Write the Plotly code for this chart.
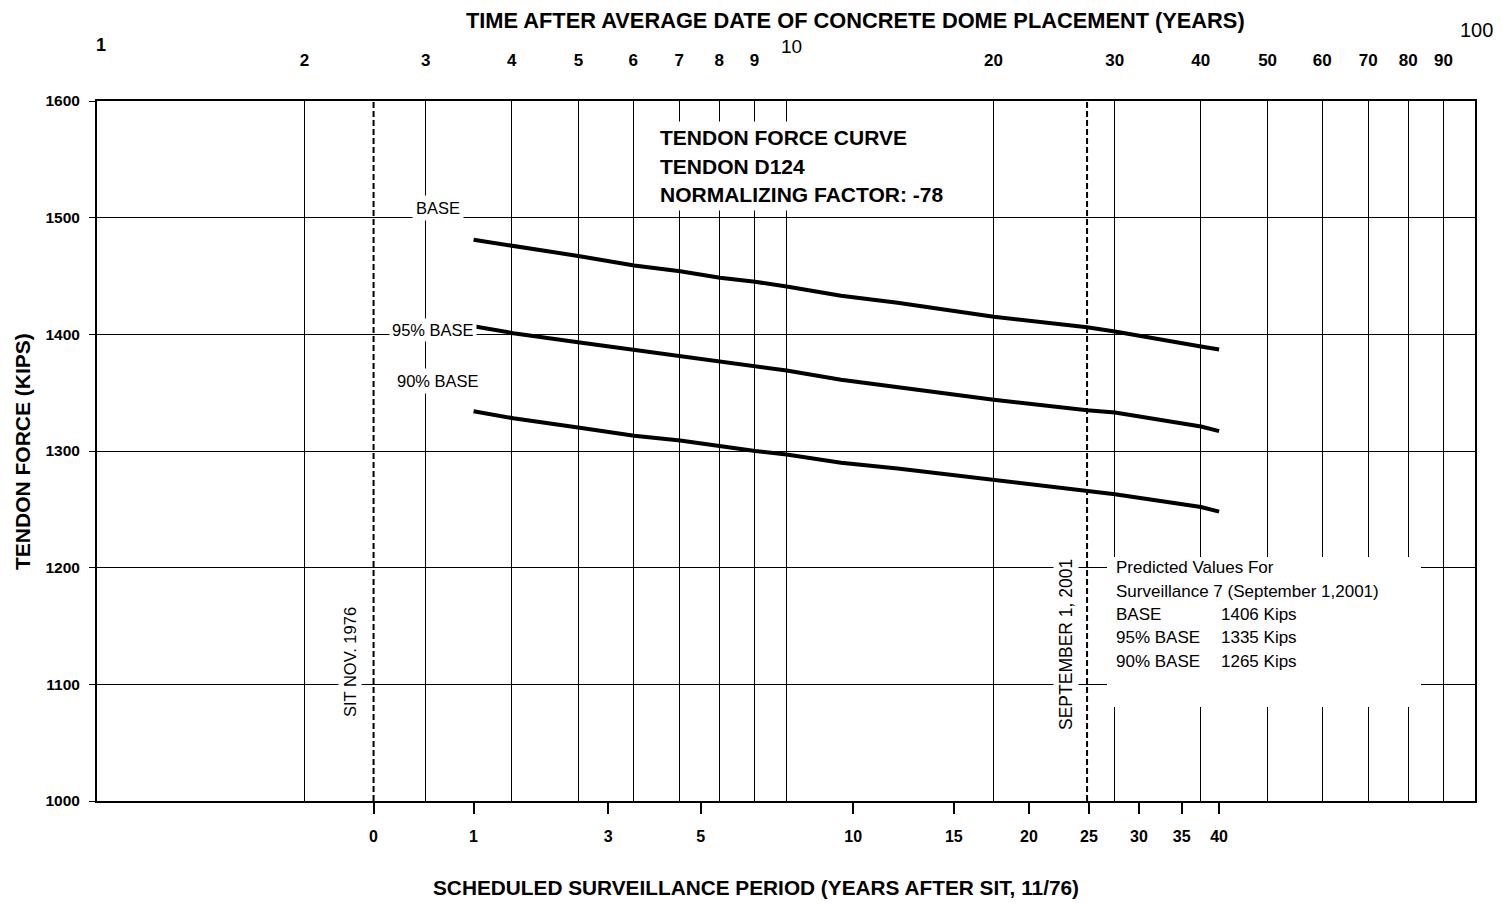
import plotly.graph_objects as go

# ---------------- data ----------------
SIT_OFFSET_YEARS = 2.52          # SIT (Nov 1976) measured from average dome placement date
SURVEILLANCE_7 = 24.83           # Sept 1, 2001 in years after SIT

years_after_sit = [1, 1.5, 2.5, 3.5, 4.5, 5.5, 6.5, 7.5, 9.5, 12, 17.5, 24.83, 27.5, 37.5, 40]
base_force = [1481, 1476, 1467, 1459, 1454, 1448.5, 1445, 1441, 1433, 1427, 1415, 1406, 1402.5, 1389.5, 1387]
base95_force = [1407, 1401, 1393, 1386.6, 1381.4, 1376.6, 1373, 1369, 1361, 1355, 1344, 1335, 1333, 1321, 1317]
base90_force = [1334, 1328, 1320, 1313, 1309, 1304, 1300, 1297, 1290, 1285, 1275, 1266, 1263, 1252, 1248]

top_tick_vals = [2, 3, 4, 5, 6, 7, 8, 9, 10, 20, 30, 40, 50, 60, 70, 80, 90]
top_tick_text = ["2", "3", "4", "5", "6", "7", "8", "9", "", "20", "30", "40", "50", "60", "70", "80", "90"]
bottom_tick_years = [0, 1, 3, 5, 10, 15, 20, 25, 30, 35, 40]
y_ticks = [1000, 1100, 1200, 1300, 1400, 1500, 1600]

# ---------------- helpers (pixel -> paper) ----------------
L, R, T, B = 97, 1475, 101, 801


def px_x(px):
    return (px - L) / (R - L)


def px_y(py):
    return (B - py) / (B - T)


FONT = "Liberation Sans, Arial, sans-serif"

x_time = [y + SIT_OFFSET_YEARS for y in years_after_sit]

fig = go.Figure()
for vals in (base_force, base95_force, base90_force):
    fig.add_trace(go.Scatter(x=x_time, y=vals, mode="lines", xaxis="x2", yaxis="y",
                             line=dict(color="black", width=4), hoverinfo="skip"))

for yrs in (0, SURVEILLANCE_7):
    xv = yrs + SIT_OFFSET_YEARS
    fig.add_trace(go.Scatter(x=[xv, xv], y=[y_ticks[0], y_ticks[-1]], mode="lines",
                             xaxis="x", yaxis="y",
                             line=dict(color="black", width=2, dash="6px,3px"), hoverinfo="skip"))

fig.update_layout(
    width=1502, height=910,
    margin=dict(l=L, r=1502 - R, t=T, b=910 - B),
    paper_bgcolor="white", plot_bgcolor="white",
    showlegend=False,
    font=dict(family=FONT, color="black"),
    xaxis=dict(
        type="log", range=[0, 2], side="bottom",
        tickvals=[y + SIT_OFFSET_YEARS for y in bottom_tick_years],
        ticktext=[str(v) for v in bottom_tick_years],
        ticks="outside", ticklen=11, tickwidth=2, tickcolor="black",
        tickfont=dict(size=16, family=FONT, weight=700),
        ticklabelstandoff=9,
        showgrid=False, zeroline=False,
        showline=True, linecolor="black", linewidth=2, mirror=True,
    ),
    xaxis2=dict(
        type="log", range=[0, 2], side="top", overlaying="x",
        tickvals=top_tick_vals, ticktext=top_tick_text,
        ticks="", tickfont=dict(size=17, family=FONT, weight=700),
        ticklabelstandoff=31,
        showgrid=True, gridcolor="black", gridwidth=1,
        zeroline=False, showline=False,
    ),
    yaxis=dict(
        range=[1000, 1600], tickvals=y_ticks,
        ticks="outside", ticklen=6, tickwidth=1, tickcolor="black",
        tickfont=dict(size=15.5, family=FONT, weight=700),
        ticklabelstandoff=6,
        showgrid=True, gridcolor="black", gridwidth=1,
        zeroline=False, showline=True, linecolor="black", linewidth=2, mirror=True,
    ),
)

ann = []


def add(text, x, y, size, bold=False, xanchor="center", yanchor="middle", angle=0, bg=None, pad=1):
    d = dict(text=text, x=px_x(x), y=px_y(y), xref="paper", yref="paper",
             showarrow=False, xanchor=xanchor, yanchor=yanchor, textangle=angle,
             font=dict(size=size, family=FONT, color="black", weight=700 if bold else 400),
             borderpad=pad)
    if bg:
        d["bgcolor"] = bg
    ann.append(d)


# axis titles
add("TIME AFTER AVERAGE DATE OF CONCRETE DOME PLACEMENT (YEARS)", 855, 21, 21.8, bold=True)
add("SCHEDULED SURVEILLANCE PERIOD (YEARS AFTER SIT, 11/76)", 756, 887, 20.8, bold=True)
add("TENDON FORCE (KIPS)", 22, 452, 21, bold=True, angle=-90)

# special top labels
add("1", 101, 45, 18, bold=True)
add("10", 791, 46, 19)
add("100", 1476, 30, 20)

# chart title block
add("TENDON FORCE CURVE", 655, 138, 21, bold=True, xanchor="left", bg="white", pad=4)
add("TENDON D124", 655, 166, 21, bold=True, xanchor="left", bg="white", pad=4)
add("NORMALIZING FACTOR: -78", 655, 195, 21, bold=True, xanchor="left", bg="white", pad=4)

# curve labels
add("BASE", 438, 208, 16.5, bg="white", pad=3)
add("95% BASE", 433, 330, 16.5, bg="white", pad=2)
add("90% BASE", 438, 381, 16.5, bg="white", pad=3)

# vertical event labels
add("SIT NOV. 1976", 350, 662, 16.5, angle=-90, bg="white", pad=2)
add("SEPTEMBER 1, 2001", 1066, 645, 17.5, angle=-90, bg="white", pad=2)

# predicted values box
box_lines = ["Predicted Values For", "Surveillance 7 (September 1,2001)", "BASE", "95% BASE", "90% BASE"]
box_vals = ["", "", "1406 Kips", "1335 Kips", "1265 Kips"]
box_y = [567, 591, 614, 637, 661]
for txt, val, yy in zip(box_lines, box_vals, box_y):
    add(txt, 1114, yy, 17, xanchor="left")
    if val:
        add(val, 1219, yy, 17, xanchor="left")

fig.update_layout(annotations=ann)
fig.add_shape(type="rect", xref="paper", yref="paper",
              x0=px_x(1107), x1=px_x(1421), y0=px_y(707), y1=px_y(557),
              fillcolor="white", line=dict(width=0), layer="above")

fig.write_html("out.html")
